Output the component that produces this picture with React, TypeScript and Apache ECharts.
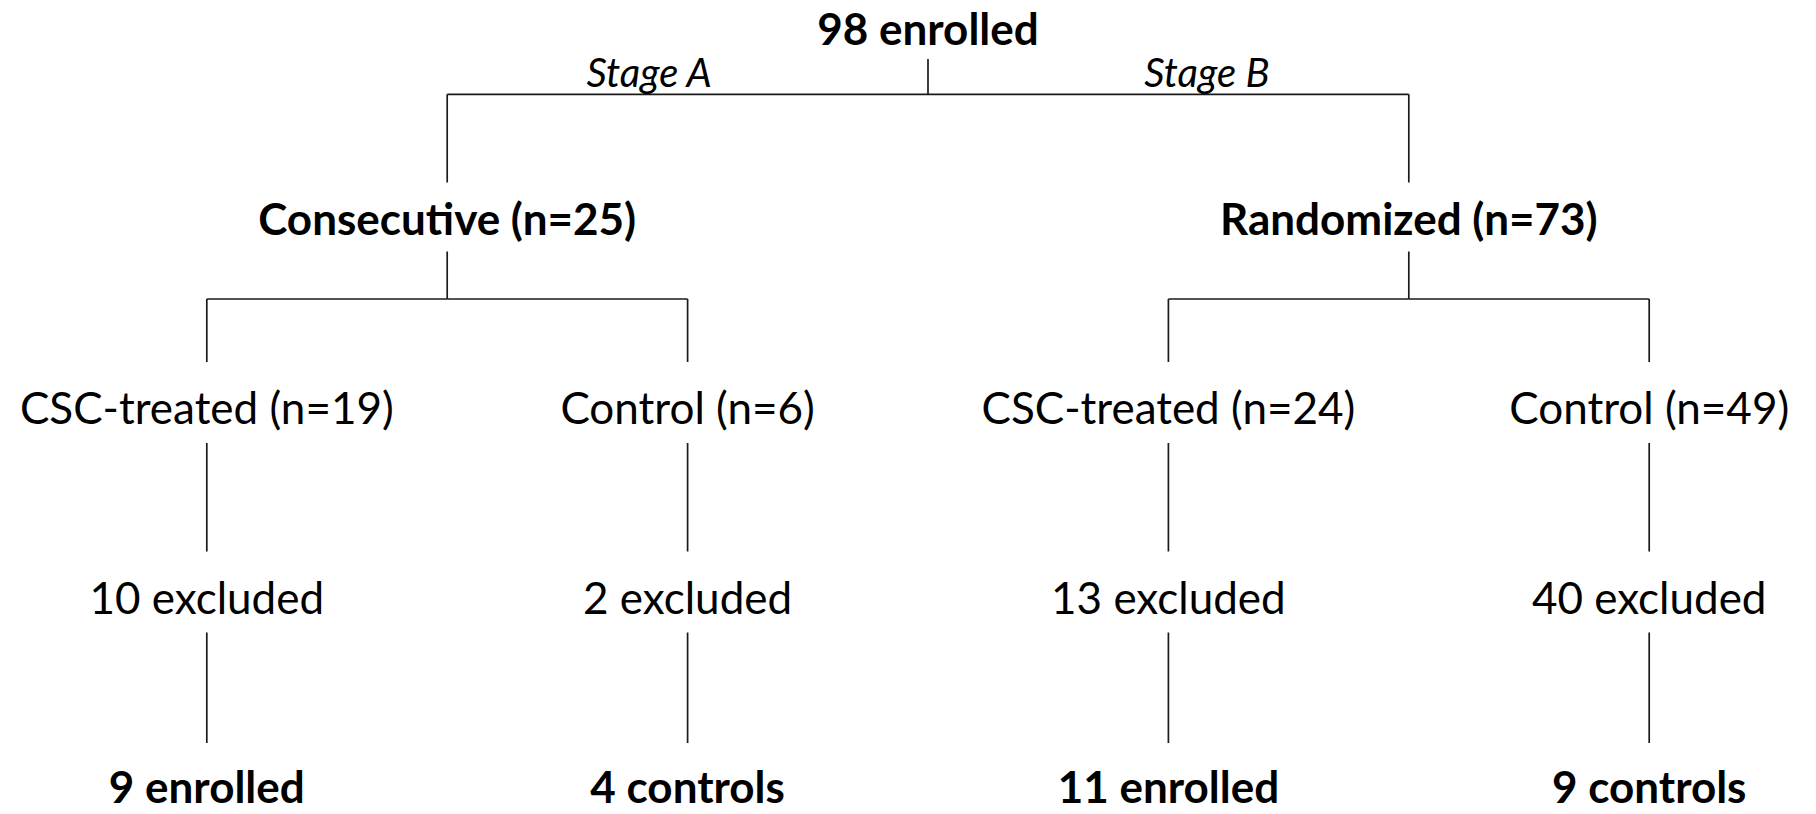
import React, { useEffect, useRef } from 'react';
import * as echarts from 'echarts';

// ---- data ----
const rootCount = 98;
const rootNoun = 'enrolled';
const stageNames = ['Stage A', 'Stage B'];
const groupNames = ['Consecutive', 'Randomized'];
const groupCounts = [25, 73];
const armNames = ['CSC-treated', 'Control', 'CSC-treated', 'Control'];
const armCounts = [19, 6, 24, 49];
const armGroup = [0, 0, 1, 1];
const excludedCounts = [10, 2, 13, 40];
const finalCounts = [9, 4, 11, 9];
const finalNouns = ['enrolled', 'controls', 'enrolled', 'controls'];

type FlowNode = {
  label: string;
  depth: number;
  parent: number;
  bold: boolean;
  x: number;
  stage?: string;
};

function buildNodes(): FlowNode[] {
  const nodes: FlowNode[] = [];
  nodes.push({ label: `${rootCount} ${rootNoun}`, depth: 0, parent: -1, bold: true, x: 0 });
  const groupIdx: number[] = [];
  groupNames.forEach((g, gi) => {
    groupIdx.push(nodes.length);
    nodes.push({ label: `${g} (n=${groupCounts[gi]})`, depth: 1, parent: 0, bold: true, x: 0, stage: stageNames[gi] });
  });
  armNames.forEach((a, i) => {
    const armI = nodes.length;
    nodes.push({ label: `${a} (n=${armCounts[i]})`, depth: 2, parent: groupIdx[armGroup[i]], bold: false, x: i });
    const exI = nodes.length;
    nodes.push({ label: `${excludedCounts[i]} excluded`, depth: 3, parent: armI, bold: false, x: i });
    nodes.push({ label: `${finalCounts[i]} ${finalNouns[i]}`, depth: 4, parent: exI, bold: true, x: i });
  });
  // parents sit at the mean of their children
  for (let d = 1; d >= 0; d--) {
    nodes.forEach((n, idx) => {
      if (n.depth !== d) return;
      const kids = nodes.filter((k) => k.parent === idx);
      n.x = kids.reduce((s, k) => s + k.x, 0) / kids.length;
    });
  }
  return nodes;
}

const FONT = 'Lato, "Noto Sans", sans-serif';
const gapBelow = [31, 34, 36, 36, 0];
const gapAbove = [0, 35, 45, 45, 43];
const forkAt = [0.35, 0.43, 0.5, 0.5];

export default function App() {
  const ref = useRef<HTMLDivElement>(null);
  useEffect(() => {
    if (!ref.current) return;
    const chart = echarts.init(ref.current, undefined, { renderer: 'svg' });
    const nodes = buildNodes();
    const childrenOf = (i: number) => nodes.map((n, k) => (n.parent === i ? k : -1)).filter((k) => k >= 0);
    const stroke = { stroke: '#1a1a1a', lineWidth: 1.7 };

    chart.setOption({
      animation: false,
      backgroundColor: '#ffffff',
      grid: { left: 206.8, right: 166.8, top: 28, bottom: 28 },
      xAxis: { type: 'value', min: 0, max: 3, show: false },
      yAxis: { type: 'value', min: 0, max: 4, inverse: true, show: false },
      series: [
        {
          type: 'custom',
          clip: false,
          data: nodes.map((n, i) => [n.x, n.depth, i]),
          encode: { x: 0, y: 1 },
          renderItem: (params: any, api: any) => {
            const i = api.value(2);
            const n = nodes[i];
            const [cx, cy] = api.coord([n.x, n.depth]);
            const els: any[] = [];
            els.push({
              type: 'text',
              x: cx,
              y: cy,
              style: {
                text: n.label,
                align: 'center',
                verticalAlign: 'middle',
                fontFamily: FONT,
                fontSize: 44,
                fontWeight: n.bold ? 'bold' : 'normal',
                fill: '#000000',
              },
            });
            const kids = childrenOf(i);
            if (kids.length === 1) {
              const k = nodes[kids[0]];
              const [kx, ky] = api.coord([k.x, k.depth]);
              els.push({ type: 'line', shape: { x1: cx, y1: cy + gapBelow[n.depth], x2: kx, y2: ky - gapAbove[k.depth] }, style: stroke });
            } else if (kids.length > 1) {
              const [, ky] = api.coord([n.x, n.depth + 1]);
              const barY = cy + forkAt[n.depth] * (ky - cy);
              els.push({ type: 'line', shape: { x1: cx, y1: cy + gapBelow[n.depth], x2: cx, y2: barY }, style: stroke });
            }
            if (n.parent >= 0 && childrenOf(n.parent).length > 1) {
              const p = nodes[n.parent];
              const [px, py] = api.coord([p.x, p.depth]);
              const barY = py + forkAt[p.depth] * (cy - py);
              els.push({ type: 'line', shape: { x1: px, y1: barY, x2: cx, y2: barY }, style: stroke });
              els.push({ type: 'line', shape: { x1: cx, y1: barY, x2: cx, y2: cy - gapAbove[n.depth] }, style: stroke });
              if (n.stage) {
                els.push({
                  type: 'text',
                  x: cx + 0.42 * (px - cx),
                  y: barY - 22,
                  style: {
                    text: n.stage,
                    align: 'center',
                    verticalAlign: 'middle',
                    fontFamily: FONT,
                    fontSize: 40,
                    fontStyle: 'italic',
                    fill: '#000000',
                  },
                });
              }
            }
            return { type: 'group', children: els };
          },
        },
      ],
    });
    return () => chart.dispose();
  }, []);
  return <div ref={ref} style={{ position: 'fixed', left: 0, top: 0, width: 1816, height: 814, background: '#fff' }} />;
}
